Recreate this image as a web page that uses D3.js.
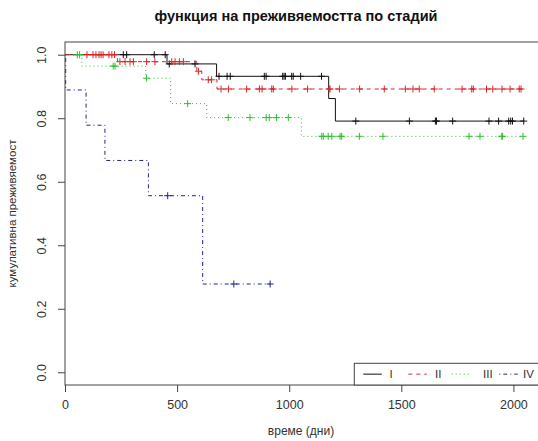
<!DOCTYPE html>
<html>
<head>
<meta charset="utf-8">
<script src="https://cdn.jsdelivr.net/npm/d3@7"></script>
<style>
  html, body { margin: 0; padding: 0; background: #fff; }
  svg { display: block; font-family: "Liberation Sans", Arial, sans-serif; }
</style>
</head>
<body>
<svg id="chart" width="538" height="441"></svg>
<script>
// Kaplan–Meier survival by stage: step times (days), survival after each step,
// censoring times, and follow-up end for each stage.
const stages = ["I", "II", "III", "IV"];

const timesI = [0, 455, 676, 1176, 1206];
const survI  = [1, 0.971, 0.932, 0.862, 0.791];
const censI  = [260, 275, 398, 447, 465, 580, 687, 723, 737, 889, 897, 971, 977, 983,
                1011, 1018, 1051, 1144, 1297, 1536, 1652, 1657, 1729, 1891, 1934,
                1979, 1988, 1996, 2046];
const endI = 2046;

const timesII = [0, 234, 588, 610, 678];
const survII  = [1, 0.978, 0.948, 0.921, 0.892];
const censII  = [98, 125, 138, 152, 161, 170, 196, 209, 221, 245, 268, 290, 305, 364,
                 401, 476, 491, 510, 528, 595, 639, 654, 696, 729, 810, 867, 879, 922,
                 929, 1012, 1082, 1178, 1182, 1224, 1314, 1424, 1518, 1552, 1580, 1647,
                 1771, 1814, 1821, 1880, 1908, 1949, 1985, 2026, 2034];
const endII = 2034;

const timesIII = [0, 75, 360, 471, 632, 1054];
const survIII  = [1, 0.964, 0.926, 0.846, 0.802, 0.743];
const censIII  = [55, 65, 215, 223, 364, 547, 728, 825, 897, 911, 943, 996, 1145, 1152,
                  1174, 1190, 1227, 1234, 1313, 1418, 1802, 1851, 1948, 1952, 2043];
const endIII = 2043;

const timesIV = [0, 3, 94, 178, 372, 614];
const survIV  = [1, 0.889, 0.778, 0.667, 0.556, 0.278];
const censIV  = [458, 753, 915];
const endIV = 915;

const xTicks = [0, 500, 1000, 1500, 2000];
const yTicks = [0, 0.2, 0.4, 0.6, 0.8, 1.0];

const titleText = "функция на преживяемостта по стадий";
const xTitle = "време (дни)";
const yTitle = "кумулативна преживяемост";

const series = [
  { name: stages[0], times: timesI,   surv: survI,   cens: censI,   end: endI,   color: "#111111", dash: null },
  { name: stages[1], times: timesII,  surv: survII,  cens: censII,  end: endII,  color: "#d8262b", dash: "4,4" },
  { name: stages[2], times: timesIII, surv: survIII, cens: censIII, end: endIII, color: "#2fc02f", dash: "1,3" },
  { name: stages[3], times: timesIV,  surv: survIV,  cens: censIV,  end: endIV,  color: "#23238f", dash: "1,3,4,3" }
];

const svg = d3.select("#chart");
const panelL = 65, panelR = 546.6, panelT = 42, panelB = 385;

const x = d3.scaleLinear().domain([0, 2148]).range([panelL, panelR]);
const y = d3.scaleLinear().domain([-0.04, 1.04]).range([panelB, panelT]);

svg.append("rect").attr("width", 538).attr("height", 441).attr("fill", "#fff");

// Title
svg.append("text")
  .attr("x", 296).attr("y", 20.5)
  .attr("text-anchor", "middle")
  .attr("font-weight", "bold")
  .attr("font-size", 14.5)
  .attr("fill", "#111")
  .text(titleText);

// Clip region for the plot panel
svg.append("clipPath").attr("id", "panel")
  .append("rect").attr("x", panelL).attr("y", panelT).attr("width", panelR - panelL).attr("height", panelB - panelT);

const g = svg.append("g").attr("clip-path", "url(#panel)");

const line = d3.line()
  .x(d => x(d[0]))
  .y(d => y(d[1]))
  .curve(d3.curveStepAfter);

function survAt(s, t) {
  let v = s.surv[0];
  for (let i = 0; i < s.times.length; i++) if (s.times[i] <= t) v = s.surv[i];
  return v;
}

series.forEach(s => {
  const pts = s.times.map((t, i) => [t, s.surv[i]]);
  pts.push([s.end, s.surv[s.surv.length - 1]]);
  g.append("path")
    .attr("d", line(pts))
    .attr("fill", "none")
    .attr("stroke", s.color)
    .attr("stroke-width", 1)
    .attr("stroke-dasharray", s.dash);

  const h = 3.5;
  g.append("g").selectAll("path")
    .data(s.cens)
    .join("path")
    .attr("d", t => {
      const cx = x(t), cy = y(survAt(s, t));
      return `M${cx - h},${cy}H${cx + h}M${cx},${cy - h}V${cy + h}`;
    })
    .attr("stroke", s.color)
    .attr("stroke-width", 1)
    .attr("fill", "none");
});

// Panel box
svg.append("rect")
  .attr("x", panelL).attr("y", panelT)
  .attr("width", panelR - panelL).attr("height", panelB - panelT)
  .attr("fill", "none").attr("stroke", "#444").attr("stroke-width", 1);

// X axis
const xAxis = svg.append("g")
  .attr("transform", `translate(0,${panelB})`)
  .call(d3.axisBottom(x).tickValues(xTicks).tickSize(7).tickSizeOuter(0).tickFormat(d3.format("d")));
xAxis.select(".domain").remove();
xAxis.selectAll(".tick line").attr("stroke", "#444");
xAxis.selectAll(".tick text")
  .attr("y", 20).attr("dy", "0.35em")
  .attr("font-size", 12.5).attr("fill", "#333")
  .attr("font-family", "Liberation Sans, Arial, sans-serif");

// Y axis
const yAxis = svg.append("g")
  .attr("transform", `translate(${panelL},0)`)
  .call(d3.axisLeft(y).tickValues(yTicks).tickSize(7).tickSizeOuter(0).tickFormat(d3.format(".1f")));
yAxis.select(".domain").remove();
yAxis.selectAll(".tick line").attr("stroke", "#444");
yAxis.selectAll(".tick text")
  .attr("x", null).attr("dy", "0.35em")
  .attr("text-anchor", "middle")
  .attr("transform", "translate(-23,0) rotate(-90)")
  .attr("font-size", 12.5).attr("fill", "#333")
  .attr("font-family", "Liberation Sans, Arial, sans-serif");

// Axis titles
svg.append("text")
  .attr("x", 301).attr("y", 435)
  .attr("text-anchor", "middle")
  .attr("font-size", 12).attr("fill", "#333")
  .text(xTitle);

svg.append("text")
  .attr("transform", `translate(12,${(panelT + panelB) / 2}) rotate(-90)`)
  .attr("text-anchor", "middle")
  .attr("dy", "0.35em")
  .attr("font-size", 11.5).attr("fill", "#333")
  .text(yTitle);

// Legend (bottom-right of the panel)
const legX = 354.3, legY = 363.3;
svg.append("rect")
  .attr("x", legX).attr("y", legY)
  .attr("width", panelR - legX).attr("height", panelB - legY)
  .attr("fill", "#fff").attr("stroke", "#444").attr("stroke-width", 1);

const legCy = (legY + panelB) / 2;
const legLineX = [363.3, 408.3, 451.7, 499.3];
const legTextX = [389.5, 435, 483, 523];
series.forEach((s, i) => {
  svg.append("line")
    .attr("x1", legLineX[i]).attr("x2", legLineX[i] + 18.5)
    .attr("y1", legCy).attr("y2", legCy)
    .attr("stroke", s.color).attr("stroke-width", 1)
    .attr("stroke-dasharray", s.dash);
  svg.append("text")
    .attr("x", legTextX[i]).attr("y", legCy)
    .attr("dy", "0.35em")
    .attr("font-size", 11.5).attr("fill", "#333")
    .text(s.name);
});
</script>
</body>
</html>
